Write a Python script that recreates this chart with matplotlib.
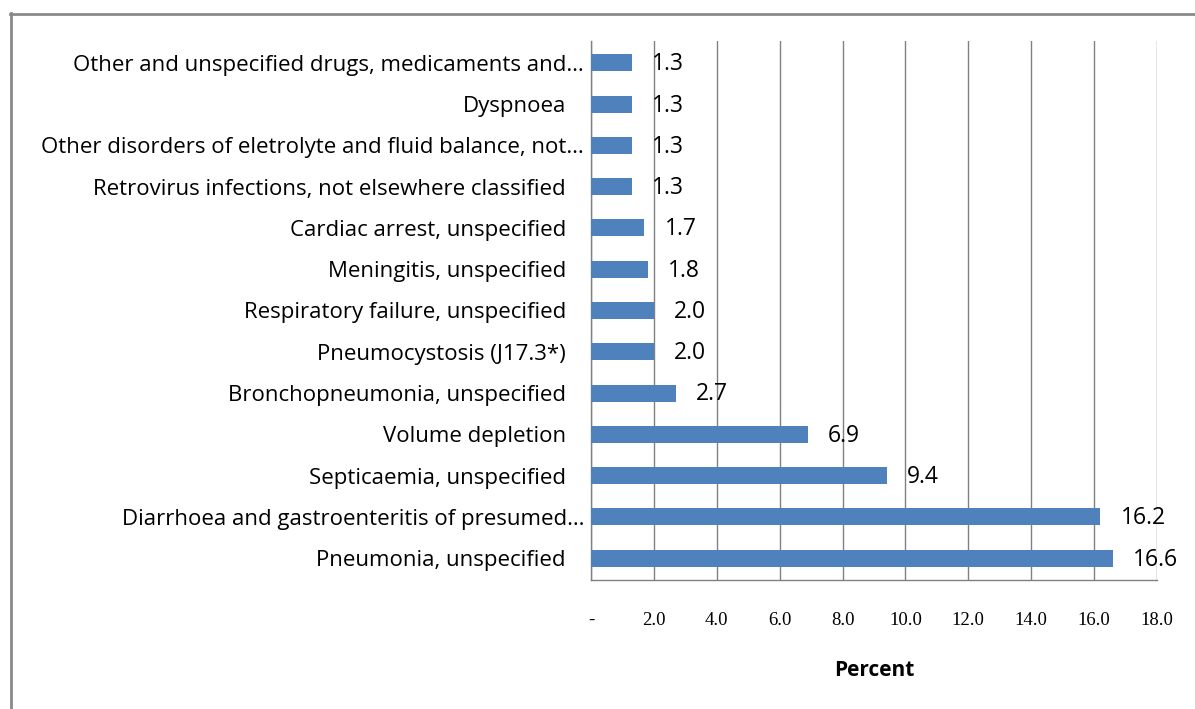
import matplotlib
matplotlib.use("Agg")
import matplotlib.pyplot as plt
import matplotlib.transforms as mtransforms
from matplotlib.lines import Line2D

categories = [
    "Pneumonia, unspecified",
    "Diarrhoea and gastroenteritis of presumed\u2026",
    "Septicaemia, unspecified",
    "Volume depletion",
    "Bronchopneumonia, unspecified",
    "Pneumocystosis (J17.3*)",
    "Respiratory failure, unspecified",
    "Meningitis, unspecified",
    "Cardiac arrest, unspecified",
    "Retrovirus infections, not elsewhere classified",
    "Other disorders of eletrolyte and fluid balance, not\u2026",
    "Dyspnoea",
    "Other and unspecified drugs, medicaments and\u2026",
]
values = [16.6, 16.2, 9.4, 6.9, 2.7, 2.0, 2.0, 1.8, 1.7, 1.3, 1.3, 1.3, 1.3]
xticks = [0, 2, 4, 6, 8, 10, 12, 14, 16, 18]
xticklabels = ["-", "2.0", "4.0", "6.0", "8.0", "10.0", "12.0", "14.0", "16.0", "18.0"]

W, H = 1195, 709
fig = plt.figure(figsize=(W / 100, H / 100), dpi=100)
ax = fig.add_axes([591 / W, 1 - 580 / H, (1157 - 591) / W, (580 - 41) / H])

sans = ["Open Sans", "DejaVu Sans"]
serif = ["Liberation Serif", "DejaVu Serif"]
bar_color = "#4F81BD"
grid_color = "#808080"

y = list(range(len(categories)))
ax.barh(y, values, height=0.41, color=bar_color, zorder=3)
ax.set_xlim(0, 18)
ax.set_ylim(-0.53, len(categories) - 1 + 0.53)

ax.set_xticks(xticks)
ax.set_xticklabels(xticklabels, fontfamily=serif, fontsize=13.5)
ax.tick_params(axis="x", length=0, pad=23)
ax.set_yticks(y)
ax.set_yticklabels(categories, fontfamily=sans, fontsize=16)
ax.tick_params(axis="y", length=0, pad=18)

# truncated labels sit a bit further right
for lab in ax.get_yticklabels():
    if lab.get_text().endswith("\u2026"):
        lab.set_transform(lab.get_transform() + mtransforms.ScaledTranslation(18 / 100, 0, fig.dpi_scale_trans))

ax.grid(axis="x", color=grid_color, linewidth=1.0, zorder=0)
for s in ["top", "right"]:
    ax.spines[s].set_visible(False)
for s in ["left", "bottom"]:
    ax.spines[s].set_color(grid_color)
    ax.spines[s].set_linewidth(1.0)

for yi, v in zip(y, values):
    ax.annotate(f"{v:.1f}", xy=(v, yi), xytext=(14.5, -1), textcoords="offset points",
                ha="left", va="center", fontfamily=sans, fontsize=16.5, color="black", zorder=4)

ax.set_xlabel("Percent", fontfamily=sans, fontsize=15, fontweight="bold", labelpad=22)

# outer frame (left and top edges visible)
fig.add_artist(Line2D([10.5 / W, 10.5 / W], [0, 1 - 13 / H], color="#8a8a8a", linewidth=2.0, transform=fig.transFigure))
fig.add_artist(Line2D([10 / W, 1], [1 - 13.5 / H, 1 - 13.5 / H], color="#8a8a8a", linewidth=2.0, transform=fig.transFigure))

fig.savefig("out.png", dpi=100)
